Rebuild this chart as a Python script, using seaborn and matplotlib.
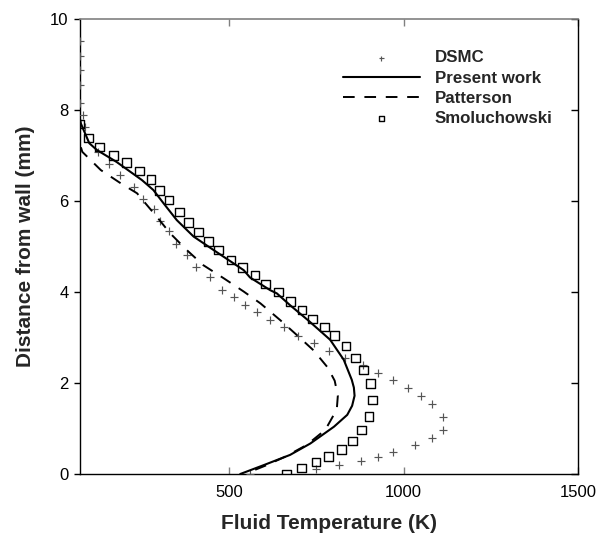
import matplotlib
matplotlib.use("Agg")
import matplotlib.pyplot as plt
import seaborn as sns
import pandas as pd

# ---------------- data ----------------
dsmc_T = [70, 70, 70, 70, 72, 80, 87, 124, 156, 186, 227, 253, 283, 301, 326, 346, 377,
          403, 444, 478, 512, 544, 579, 616, 657, 698, 742, 785, 832, 882, 925,
          970, 1011, 1051, 1082, 1112, 1112, 1082, 1031, 970, 925, 877, 815, 748, 558]
dsmc_y = [9.52, 9.19, 8.87, 8.56, 8.15, 7.90, 7.63, 7.08, 6.81, 6.57, 6.31, 6.05, 5.82,
          5.56, 5.33, 5.05, 4.81, 4.56, 4.32, 4.05, 3.90, 3.71, 3.56, 3.39, 3.22,
          3.03, 2.89, 2.71, 2.55, 2.40, 2.21, 2.07, 1.89, 1.71, 1.54, 1.25, 0.97,
          0.79, 0.63, 0.48, 0.38, 0.29, 0.19, 0.12, 0.01]

present_T = [70, 74, 98, 120, 176, 249, 282, 311, 349, 397, 455, 541, 559, 617, 636,
             674, 727, 789, 828, 851, 857, 859, 852, 838, 800, 732, 674, 600, 531]
present_y = [7.85, 7.70, 7.27, 7.12, 6.86, 6.46, 6.24, 5.95, 5.58, 5.22, 4.92, 4.48,
             4.32, 4.04, 3.97, 3.71, 3.37, 2.95, 2.51, 2.07, 1.90, 1.72, 1.50, 1.30,
             1.04, 0.67, 0.42, 0.20, 0.00]

patterson_T = [74, 78, 131, 188, 235, 259, 292, 330, 378, 425, 484, 541, 589, 646, 694,
               741, 782, 802, 811, 808, 792, 775, 722, 660, 602, 550]
patterson_y = [7.18, 7.08, 6.68, 6.39, 6.17, 5.95, 5.65, 5.29, 4.92, 4.59, 4.30, 4.01,
               3.75, 3.38, 3.05, 2.72, 2.34, 2.05, 1.72, 1.42, 1.20, 0.97, 0.64, 0.38,
               0.18, 0.02]

smol_T = [70, 95, 128, 168, 205, 242, 275, 299, 327, 356, 383, 411, 440, 469, 505, 537,
          573, 604, 640, 675, 708, 739, 772, 802, 834, 861, 885, 904, 911, 901, 879,
          853, 822, 785, 748, 707, 663]
smol_y = [7.69, 7.38, 7.19, 7.00, 6.84, 6.66, 6.47, 6.23, 6.02, 5.76, 5.53, 5.32, 5.11,
          4.92, 4.70, 4.54, 4.37, 4.18, 4.00, 3.79, 3.60, 3.41, 3.23, 3.04, 2.81, 2.55,
          2.29, 1.99, 1.63, 1.26, 0.97, 0.73, 0.54, 0.38, 0.26, 0.13, 0.00]

x_ticks = [500, 1000, 1500]
y_ticks = [0, 2, 4, 6, 8, 10]

labels = ["DSMC", "Present work", "Patterson", "Smoluchowski"]

# ---------------- plot ----------------
sns.set_theme(style="white")
plt.rcParams["font.family"] = ["Liberation Sans", "DejaVu Sans"]

fig = plt.figure(figsize=(5.97, 5.35), dpi=100)
ax = fig.add_axes([0.1332, 0.114, 0.835, 0.8505])

df_p = pd.DataFrame({"T": present_T, "y": present_y})
df_pa = pd.DataFrame({"T": patterson_T, "y": patterson_y})
df_d = pd.DataFrame({"T": dsmc_T, "y": dsmc_y})
df_s = pd.DataFrame({"T": smol_T, "y": smol_y})

sns.scatterplot(data=df_d, x="T", y="y", marker="+", s=36, color="#555555",
                linewidth=0.85, ax=ax, label=labels[0], zorder=3)
sns.lineplot(data=df_p, x="T", y="y", sort=False, estimator=None, color="black",
             linewidth=1.5, ax=ax, label=labels[1], zorder=4)
sns.lineplot(data=df_pa, x="T", y="y", sort=False, estimator=None, color="black",
             linewidth=1.4, linestyle=(0, (6, 5)), ax=ax, label=labels[2], zorder=4)
sns.scatterplot(data=df_s, x="T", y="y", marker="s", s=38, facecolor="none",
                edgecolor="black", linewidth=1.0, ax=ax, label=labels[3], zorder=3)

ax.set_xlim(70, 1500)
ax.set_ylim(0, 10)
ax.set_xticks(x_ticks)
ax.set_yticks(y_ticks)
ax.set_xticklabels([str(v) for v in x_ticks], fontsize=12)
ax.set_yticklabels([str(v) for v in y_ticks], fontsize=12)

ax.set_xlabel("Fluid Temperature (K)", fontsize=15, fontweight="bold", labelpad=10)
ax.set_ylabel("Distance from wall (mm)", fontsize=15, fontweight="bold", labelpad=11)

for side in ["left", "right", "bottom"]:
    ax.spines[side].set_color("black")
    ax.spines[side].set_linewidth(1.0)
ax.spines["top"].set_color("#808080")
ax.spines["top"].set_linewidth(1.2)

ax.tick_params(axis="y", which="major", left=True, right=True, direction="out",
               length=4, width=1, color="black", labelcolor="black", pad=4)
ax.tick_params(axis="x", which="major", bottom=True, top=True, direction="in",
               length=5, width=1, color="#808080", labelcolor="black", pad=8)
# right ticks inward
for t in ax.yaxis.get_major_ticks():
    t.tick2line.set_marker(matplotlib.lines.TICKLEFT)
    t.tick2line.set_markersize(5)

leg = ax.legend(loc="upper left", bbox_to_anchor=(0.4985, 0.9644), frameon=False,
                handlelength=4.5, handletextpad=0.9, labelspacing=0.31,
                prop={"weight": "bold", "size": 12.2}, markerscale=0.6)

fig.savefig("out.png", dpi=100)
